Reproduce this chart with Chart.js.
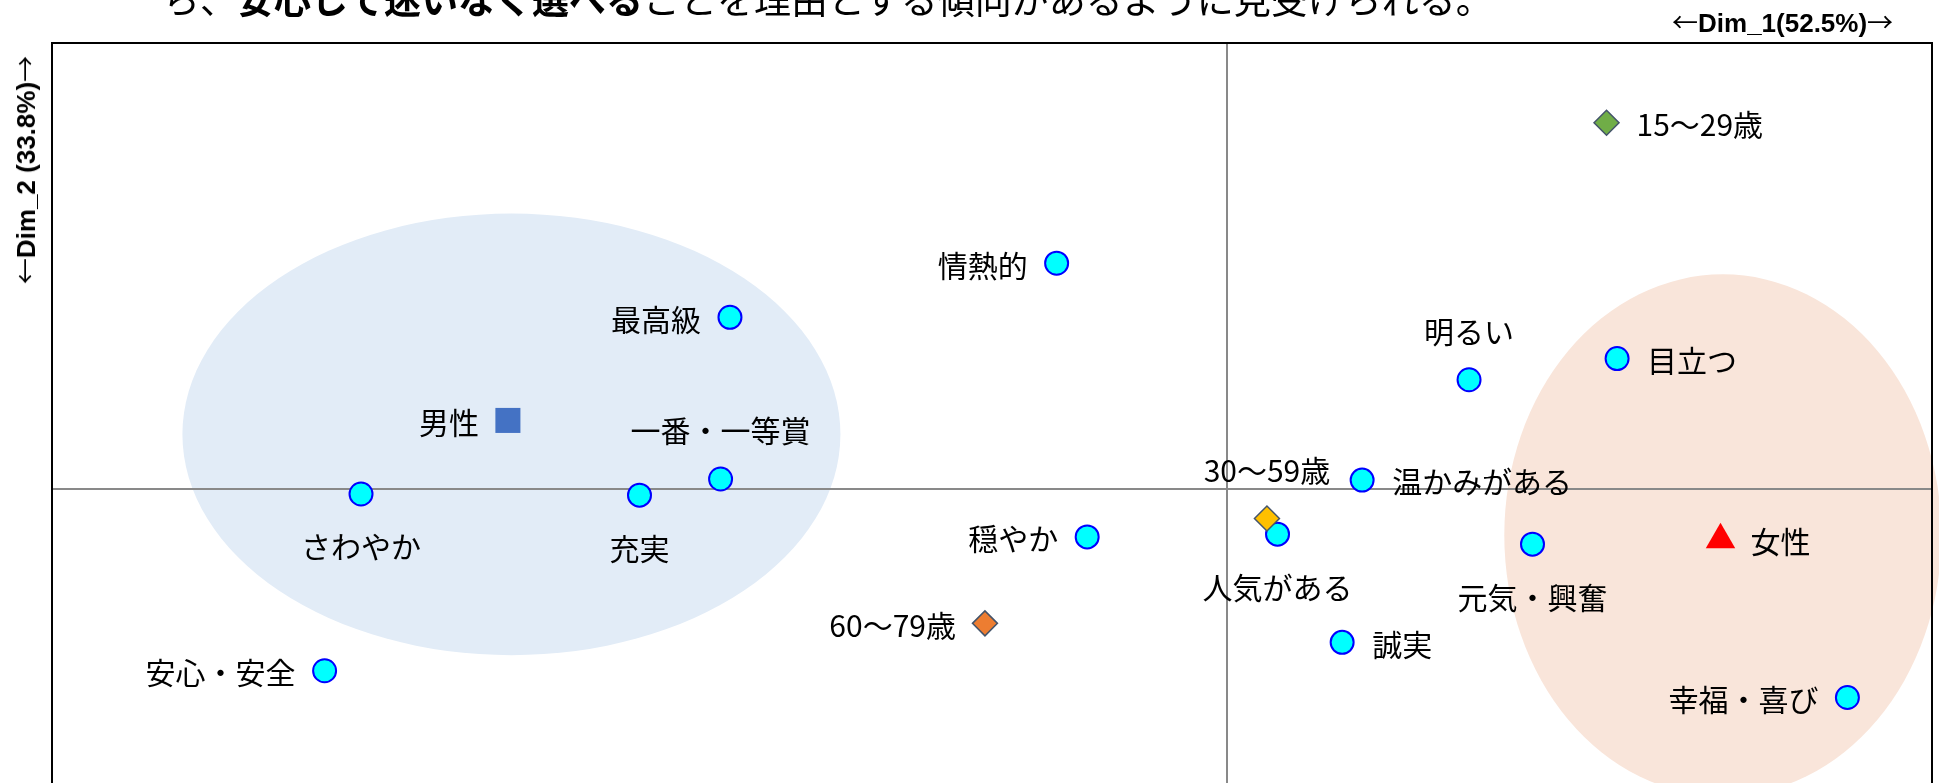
<!DOCTYPE html>
<html lang="ja">
<head>
  <meta charset="UTF-8">
  <title>対応分析マップ</title>
  <script src="https://cdn.jsdelivr.net/npm/chart.js@4.4.3/dist/chart.umd.min.js"></script>
  <style>
    html, body { margin: 0; padding: 0; background: #fff; }
    #wrap { position: relative; width: 1939px; height: 783px; overflow: hidden; }
    #chart { position: absolute; left: 0; top: 0; }
    .lead { position: absolute; left: 163px; top: -20px; font: 37px/37px 'Noto Sans CJK JP', sans-serif; white-space: nowrap; color: #000; }
    .lead b { font-weight: 700; }
    .dim { position: absolute; font: bold 26px/26px 'Liberation Sans', Arial, sans-serif; white-space: nowrap; color: #000; }
    .dim .arr { font-family: 'Noto Sans CJK JP', sans-serif; font-weight: 400; }
    .dim1 { left: 1672px; top: 8px; }
    .dim2 { left: 25px; top: 170px; transform: translate(-50%, -50%) rotate(-90deg); }
  </style>
</head>
<body>
  <div id="wrap">
    <canvas id="chart" width="1939" height="960"></canvas>
    <div class="lead">ら、<b>安心して迷いなく選べる</b>ことを理由とする傾向があるように見受けられる。</div>
    <div class="dim dim1"><span class="arr">←</span>Dim_1(52.5%)<span class="arr">→</span></div>
    <div class="dim dim2"><span class="arr">←</span>Dim_2 (33.8%)<span class="arr">→</span></div>
  </div>
  <script>
    // attribute words (column points)
    const attrNames = ['情熱的', '最高級', '一番・一等賞', 'さわやか', '充実', '穏やか', '人気がある',
      '温かみがある', '明るい', '目立つ', '元気・興奮', '誠実', '幸福・喜び', '安心・安全'];
    const attrX = [-0.145, -0.423, -0.431, -0.737, -0.500, -0.119, 0.043,
      0.115, 0.206, 0.332, 0.260, 0.098, 0.528, -0.768];
    const attrY = [0.405, 0.308, 0.018, -0.009, -0.011, -0.086, -0.081,
      0.016, 0.196, 0.234, -0.099, -0.275, -0.374, -0.326];

    // respondent groups (row points)
    const sexNames = ['男性', '女性'];
    const sexX = [-0.612, 0.420];
    const sexY = [0.123, -0.091];

    const ageNames = ['15～29歳', '30～59歳', '60～79歳'];
    const ageX = [0.323, 0.034, -0.206];
    const ageY = [0.657, -0.053, -0.241];

    // shaded group regions: centre and radii in axis units
    const zoneCx = [-0.609, 0.422];
    const zoneCy = [0.098, -0.083];
    const zoneRx = [0.280, 0.186];
    const zoneRy = [0.396, 0.468];

    // where each label sits relative to its marker
    const attrSide = ['left', 'left', 'above', 'below', 'below', 'left', 'below',
      'right', 'above', 'right', 'below', 'right', 'left', 'left'];
    const sexSide = ['left', 'right'];
    const ageSide = ['right', 'above', 'left'];

    const zoneColors = ['#E2ECF7', '#F9E5DA'];
    const ageColors = ['#70AD47', '#FFC000', '#ED7D31'];

    const toPoints = (xs, ys) => xs.map((x, i) => ({ x: x, y: ys[i] }));

    const backdrop = {
      id: 'backdrop',
      beforeDatasetsDraw(chart) {
        const { ctx, chartArea: a, scales: { x, y } } = chart;
        ctx.save();
        zoneCx.forEach((cx, i) => {
          const px = x.getPixelForValue(cx), py = y.getPixelForValue(zoneCy[i]);
          const rx = Math.abs(x.getPixelForValue(cx + zoneRx[i]) - px);
          const ry = Math.abs(y.getPixelForValue(zoneCy[i] + zoneRy[i]) - py);
          ctx.beginPath();
          ctx.ellipse(px, py, rx, ry, 0, 0, Math.PI * 2);
          ctx.fillStyle = zoneColors[i];
          ctx.fill();
        });
        // zero lines
        ctx.strokeStyle = '#898989';
        ctx.lineWidth = 2;
        const x0 = x.getPixelForValue(0), y0 = y.getPixelForValue(0);
        ctx.beginPath();
        ctx.moveTo(a.left, y0); ctx.lineTo(a.right, y0);
        ctx.moveTo(x0, a.top); ctx.lineTo(x0, a.bottom);
        ctx.stroke();
        // frame
        ctx.strokeStyle = '#000';
        ctx.strokeRect(a.left, a.top, a.right - a.left, a.bottom - a.top);
        ctx.restore();
      }
    };

    const sideSets = [ageSide, [sexSide[0]], [sexSide[1]], attrSide];

    const pointLabels = {
      id: 'pointLabels',
      afterDatasetsDraw(chart) {
        const ctx = chart.ctx;
        const fs = 30;
        ctx.save();
        ctx.font = fs + "px 'Noto Sans CJK JP', sans-serif";
        ctx.fillStyle = '#000';
        ctx.textBaseline = 'alphabetic';
        chart.data.datasets.forEach((ds, di) => {
          chart.getDatasetMeta(di).data.forEach((el, i) => {
            const side = sideSets[di][i];
            let tx = el.x, cy = el.y + 2;
            if (side === 'left') { ctx.textAlign = 'right'; tx -= 29; }
            else if (side === 'right') { ctx.textAlign = 'left'; tx += 30; }
            else if (side === 'above') { ctx.textAlign = 'center'; cy = el.y - 48; }
            else { ctx.textAlign = 'center'; cy = el.y + 53; }
            ctx.fillText(ds.names[i], tx, cy + fs * 0.38);
          });
        });
        ctx.restore();
      }
    };

    new Chart(document.getElementById('chart'), {
      type: 'scatter',
      data: {
        datasets: [
          {
            label: '年代', names: ageNames, data: toPoints(ageX, ageY),
            pointStyle: 'rectRot', pointRadius: 12.5,
            backgroundColor: ageColors, borderColor: '#44546A', borderWidth: 1.5
          },
          {
            label: '男性', names: [sexNames[0]], data: toPoints([sexX[0]], [sexY[0]]),
            pointStyle: 'rect', pointRadius: 17.7,
            backgroundColor: '#4472C4', borderWidth: 0
          },
          {
            label: '女性', names: [sexNames[1]], data: toPoints([sexX[1]], [sexY[1]]),
            pointStyle: 'triangle', pointRadius: 17,
            backgroundColor: '#FF0000', borderWidth: 0
          },
          {
            label: 'イメージ', names: attrNames, data: toPoints(attrX, attrY),
            pointStyle: 'circle', pointRadius: 11.5,
            backgroundColor: '#00FFFF', borderColor: '#0000FF', borderWidth: 2
          }
        ]
      },
      options: {
        responsive: false,
        animation: false,
        events: [],
        clip: false,
        layout: { autoPadding: false, padding: { left: 52, top: 43, right: 7, bottom: 25 } },
        plugins: { legend: { display: false }, tooltip: { enabled: false } },
        scales: {
          x: { type: 'linear', min: -1.0, max: 0.6, display: false },
          y: { type: 'linear', min: -0.8, max: 0.8, display: false }
        }
      },
      plugins: [backdrop, pointLabels]
    });
  </script>
</body>
</html>
